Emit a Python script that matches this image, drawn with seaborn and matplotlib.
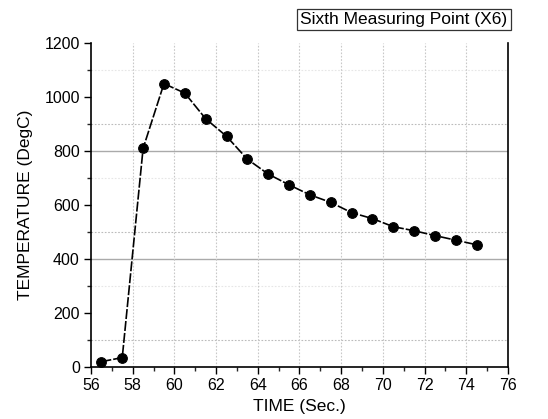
import matplotlib
matplotlib.use("Agg")
import matplotlib.pyplot as plt
import seaborn as sns
import pandas as pd
from matplotlib.ticker import MultipleLocator

time_sec = [56.5, 57.5, 58.5, 59.5, 60.5, 61.5, 62.5, 63.5, 64.5, 65.5,
            66.5, 67.5, 68.5, 69.5, 70.5, 71.5, 72.5, 73.5, 74.5]
temperature = [20, 35, 810, 1050, 1015, 920, 855, 770, 715, 675,
               638, 610, 572, 550, 520, 505, 487, 470, 453]

title_text = "Sixth Measuring Point (X6)"
xlabel = "TIME (Sec.)"
ylabel = "TEMPERATURE (DegC)"

df = pd.DataFrame({"t": time_sec, "T": temperature})

sns.set_theme(style="white")
plt.rcParams['font.family'] = ['Liberation Sans', 'DejaVu Sans']

fig = plt.figure(figsize=(5.48, 4.19), dpi=100)
ax = fig.add_axes([0.166, 0.124, 0.761, 0.773])

# grid lines
for y in [400, 800]:
    ax.axhline(y, color="#aaaaaa", lw=1.0, zorder=0)
for y in [100, 500, 900]:
    ax.axhline(y, color="#bbbbbb", lw=0.8, ls=(0, (1.5, 1.5)), zorder=0)
for y in [300, 700, 1100]:
    ax.axhline(y, color="#e6e6e6", lw=0.8, ls=(0, (1.5, 1.5)), zorder=0)
for x in range(58, 76, 2):
    ax.axvline(x, color="#c8c8c8", lw=0.8, ls=(0, (1.5, 1.5)), zorder=0)

sns.lineplot(data=df, x="t", y="T", ax=ax, color="black", lw=1.2,
             linestyle=(0, (6, 1.2)), marker="o", markersize=7,
             markeredgecolor="black", markerfacecolor="black", zorder=3)

ax.set_xlim(56, 76)
ax.set_ylim(0, 1200)
ax.xaxis.set_major_locator(MultipleLocator(2))
ax.xaxis.set_minor_locator(MultipleLocator(1))
ax.yaxis.set_major_locator(MultipleLocator(200))
ax.yaxis.set_minor_locator(MultipleLocator(100))
ax.tick_params(axis="both", which="major", direction="out", length=5,
               width=1, labelsize=11.5, colors="black", bottom=True, left=True,
               pad=3)
ax.tick_params(axis="both", which="minor", direction="out", length=3,
               width=1, bottom=True, left=True)

for side in ["left", "bottom", "right"]:
    ax.spines[side].set_visible(True)
    ax.spines[side].set_color("black")
    ax.spines[side].set_linewidth(1.2)
ax.spines["top"].set_visible(False)

ax.set_xlabel(xlabel, fontsize=12.5, color="black", labelpad=4)
ax.set_ylabel(ylabel, fontsize=12.5, color="black", labelpad=8)

fig.text(0.926, 0.953, title_text, fontsize=12.5, ha="right", va="center",
         color="black",
         bbox=dict(boxstyle="square,pad=0.18", facecolor="white",
                   edgecolor="#333333", lw=0.9))

fig.savefig("out.png", dpi=100)
